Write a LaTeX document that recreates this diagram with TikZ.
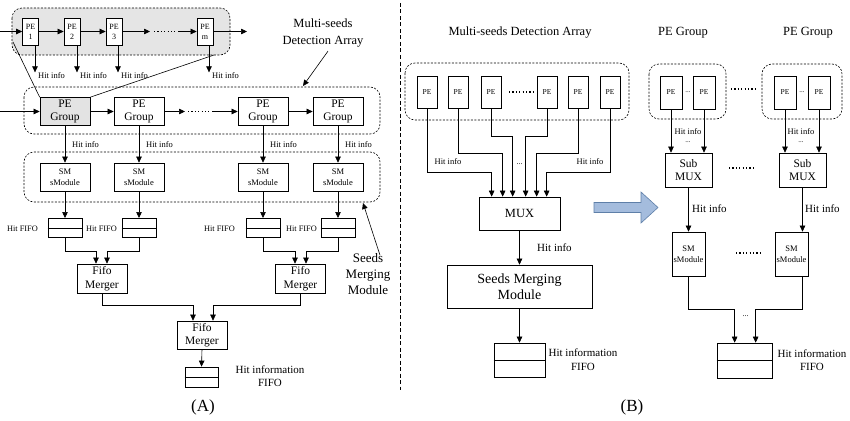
\documentclass[tikz,border=0pt]{standalone}
\usepackage{fontspec}
\setmainfont{Liberation Serif}
\usetikzlibrary{arrows.meta,calc}
\newcommand{\fsz}[2]{\fontsize{#1}{#2}\selectfont}
\definecolor{arrowfill}{HTML}{A4BCDD}
\definecolor{arrowline}{HTML}{5E7FA8}
\begin{document}
\begin{tikzpicture}[x=1pt,y=-1pt,
  box/.style={draw, line width=0.7pt, inner sep=0pt, align=center},
  arr/.style={-{Triangle[length=6pt,width=5.5pt]}, line width=0.6pt},
  ln/.style={line width=0.6pt},
  region/.style={draw, dash pattern=on 2pt off 1.5pt, rounded corners=10pt, line width=0.6pt},
  lbl/.style={inner sep=0pt, font=\fsz{8.5}{10}},
  dotrow/.style={line width=1.1pt, dash pattern=on 1.1pt off 2.3pt},
]
\useasboundingbox (0,0) rectangle (850,420);

% ================= (A) =================
% one PE group, expanded
\draw[region, fill=gray!20] (12,8) rectangle (230,55);
\foreach \n/\x/\t in {pe1/30.5/1, pe2/72/2, pe3/114/3, pem/205/m}
  \node[box, fill=white, minimum width=16pt, minimum height=27pt, font=\fsz{8}{10}] (\n) at (\x,31.5) {PE\\\t};
\coordinate (inA) at (0,31.5);
\coordinate (outA) at (247,31.5);
\coordinate (t3) at (150,31.5);
\coordinate (t4) at (178,31.5);
\draw[arr] (inA) -- (pe1);
\draw[arr] (pe1) -- (pe2);
\draw[arr] (pe2) -- (pe3);
\draw[arr] (pe3) -- (t3);
\draw[dotrow] (154,31.5) -- (175,31.5);
\draw[arr] (t4) -- (pem);
\draw[arr] (pem) -- (outA);
\foreach \n/\dx in {pe1/4.5, pe2/5, pe3/4, pem/4} {
  \draw[arr] ([xshift=\dx pt]\n.south) -- ++(0,27) coordinate (h\n);
  \node[lbl, anchor=west] at ($(h\n)+(3,3)$) {Hit info};
}

% PE group row
\draw[region] (24,87) rectangle (380,134);
\node[box, fill=gray!22, minimum width=50pt, minimum height=28pt, font=\fsz{11.5}{13.5}] (g1) at (65,111.5) {PE\\Group};
\foreach \n/\x in {g2/139, g3/263, g4/338}
  \node[box, minimum width=50pt, minimum height=28pt, font=\fsz{11.5}{13.5}] (\n) at (\x,111.5) {PE\\Group};
\coordinate (cl) at (13,42);
\coordinate (cr) at (214,55);
\draw[ln] (g1.north west) -- (cl);
\draw[ln] (g1.north east) -- (cr);
\coordinate (inG) at (0,111.5);
\coordinate (gd1) at (185,111.5);
\coordinate (gd2) at (212,111.5);
\draw[arr] (inG) -- (g1);
\draw[arr] (g1) -- (g2);
\draw[arr] (g2) -- (gd1);
\draw[dotrow] (188,111.5) -- (209,111.5);
\draw[arr] (gd2) -- (g3);
\draw[arr] (g3) -- (g4);

% seeds merging sub-modules
\draw[region] (24,152) rectangle (380,202);
\foreach \n/\x in {s1/65, s2/139, s3/263, s4/338}
  \node[box, minimum width=50pt, minimum height=28pt, font=\fsz{8.5}{10.5}] (\n) at (\x,177) {SM\\sModule};
\foreach \g/\s in {g1/s1, g2/s2, g3/s3, g4/s4} {
  \draw[arr] (\g.south) -- (\s.north);
  \node[lbl, anchor=west] at ($(\g.south)+(7,18.5)$) {Hit info};
}

% hit FIFOs
\foreach \n/\s in {f1/s1, f2/s2, f3/s3, f4/s4} {
  \node[box, minimum width=34pt, minimum height=19pt] (\n) at ($(\s.south)+(0,36.5)$) {};
  \draw[ln] (\n.west) -- (\n.east);
  \draw[arr] (\s.south) -- (\n.north);
}
\foreach \x in {38, 117, 235, 317}
  \node[lbl, anchor=east, font=\fsz{8.3}{10}] at (\x,229) {Hit FIFO};

% FIFO merger tree
\node[box, minimum width=50pt, minimum height=29pt, font=\fsz{11.5}{13.5}] (fm1) at (102,278.5) {Fifo\\Merger};
\node[box, minimum width=50pt, minimum height=29pt, font=\fsz{11.5}{13.5}] (fm2) at (300.5,278.5) {Fifo\\Merger};
\node[box, minimum width=50pt, minimum height=28pt, font=\fsz{11.5}{13.5}] (fm3) at (202,335) {Fifo\\Merger};
\draw[arr] (f1.south) -- ++(0,14) -| ([xshift=-6pt]fm1.north);
\draw[arr] (f2.south) -- ++(0,14) -| ([xshift=5pt]fm1.north);
\draw[arr] (f3.south) -- ++(0,14) -| ([xshift=-5.5pt]fm2.north);
\draw[arr] (f4.south) -- ++(0,14) -| ([xshift=5.5pt]fm2.north);
\draw[arr] (fm1.south) -- ++(0,12) -| ([xshift=-9pt]fm3.north);
\draw[arr] (fm2.south) -- ++(0,12) -| ([xshift=11pt]fm3.north);
\node[box, minimum width=33pt, minimum height=20pt] (hfa) at (201.5,377) {};
\draw[ln] (hfa.west) -- (hfa.east);
\draw[arr] (fm3.south) -- (hfa.north);
\node[align=center, inner sep=0pt, font=\fsz{11}{13}] (hfal) at (270,376.5) {Hit information\\FIFO};

% annotations
\node[align=center, inner sep=0pt, font=\fsz{12.5}{16.5}] (mda) at (323,33) {Multi-seeds\\Detection Array};
\coordinate (mdatip) at (303,86);
\draw[arr] ([xshift=5pt,yshift=-4pt]mda.south) -- (mdatip);
\node[align=center, inner sep=0pt, font=\fsz{13}{16}] (smma) at (368,274) {Seeds\\Merging\\Module};
\coordinate (smmtip) at (363,203);
\draw[arr] ([xshift=12pt,yshift=-2pt]smma.north) -- (smmtip);

\node[inner sep=0pt, font=\fsz{17}{20}] (capA) at (203,407) {(A)};

% divider
\draw[dash pattern=on 4pt off 2.5pt, line width=0.7pt] (400,3) -- (400,390);

% ================= (B) =================
\node[inner sep=0pt, font=\fsz{12.5}{15}] (tb) at (520,33) {Multi-seeds Detection Array};
\draw[region] (405,63) rectangle (629,120);
\foreach \n/\x in {b1/427, b2/458, b3/491, b4/547, b5/578, b6/610}
  \node[box, minimum width=20pt, minimum height=32pt, font=\fsz{7.5}{9}] (\n) at (\x,92) {PE};
\draw[dotrow] (509,92) -- (533,92);

\node[box, minimum width=81pt, minimum height=33pt, font=\fsz{12.5}{15}] (mux) at (519.5,213.5) {MUX};
\draw[arr] (b1.south) -- ++(0,64) -| ([xshift=13pt]mux.north west);
\draw[arr] (b2.south) -- ++(0,45) -| ([xshift=24pt]mux.north west);
\draw[arr] (b3.south) -- ++(0,28) -| ([xshift=34pt]mux.north west);
\draw[arr] (b4.south) -- ++(0,28) -| ([xshift=47pt]mux.north west);
\draw[arr] (b5.south) -- ++(0,45) -| ([xshift=58pt]mux.north west);
\draw[arr] (b6.south) -- ++(0,64) -| ([xshift=68pt]mux.north west);
\node[lbl] at (448,162) {Hit info};
\node[lbl] at (590,162) {Hit info};
\node[inner sep=0pt, font=\fsz{8}{10}] at (519.5,164) {...};

\node[box, minimum width=145pt, minimum height=43pt, font=\fsz{14}{16}] (smmb) at (519.5,286.5) {Seeds Merging\\Module};
\draw[arr] (mux.south) -- (smmb.north);
\node[lbl, anchor=west, font=\fsz{11}{13}] at (537,248) {Hit info};
\node[box, minimum width=51pt, minimum height=34pt] (hfb) at (519.5,360) {};
\draw[ln] (hfb.west) -- (hfb.east);
\draw[arr] (smmb.south) -- (hfb.north);
\node[align=center, inner sep=0pt, font=\fsz{11}{14}] (hfbl) at (583,360) {Hit information\\FIFO};
\node[inner sep=0pt, font=\fsz{17}{20}] (capB) at (632,407) {(B)};

% refinement arrow
\draw[fill=arrowfill, draw=arrowline, line width=0.6pt]
  (594,202.5) -- (641,202.5) -- (641,192) -- (658,207.5) -- (641,223) -- (641,212.5) -- (594,212.5) -- cycle;

% distributed multiplexing
\node[inner sep=0pt, font=\fsz{12.5}{15}] (tg1) at (683,33) {PE Group};
\node[inner sep=0pt, font=\fsz{12.5}{15}] (tg2) at (808,33) {PE Group};
\draw[region] (649,64) rectangle (726,119);
\draw[region] (762,64) rectangle (842,119);
\foreach \n/\x in {p11/671, p12/704, p21/785, p22/819}
  \node[box, minimum width=22pt, minimum height=33pt, font=\fsz{7.5}{9}] (\n) at (\x,92.5) {PE};
\node[inner sep=0pt, font=\fsz{7}{8}] at (688,92) {...};
\node[inner sep=0pt, font=\fsz{7}{8}] at (802,92) {...};
\draw[dotrow] (731,89) -- (756,89);

\node[box, minimum width=47pt, minimum height=34pt, font=\fsz{11.5}{13.5}] (sm1) at (688.5,170) {Sub\\MUX};
\node[box, minimum width=47pt, minimum height=34pt, font=\fsz{11.5}{13.5}] (sm2) at (802.5,170) {Sub\\MUX};
\draw[dotrow] (729,168) -- (754,168);
\draw[arr] (p11.south) -- (p11.south |- sm1.north);
\draw[arr] (p12.south) -- (p12.south |- sm1.north);
\draw[arr] (p21.south) -- (p21.south |- sm2.north);
\draw[arr] (p22.south) -- (p22.south |- sm2.north);
\node[lbl] at (688,131.5) {Hit info};
\node[inner sep=0pt, font=\fsz{7}{8}] at (688,142.5) {...};
\node[lbl] at (801,131.5) {Hit info};
\node[inner sep=0pt, font=\fsz{7}{8}] at (801,142.5) {...};

\node[box, minimum width=33pt, minimum height=44pt, font=\fsz{8.5}{10.5}] (sq1) at (688.5,254) {SM\\sModule};
\node[box, minimum width=33pt, minimum height=44pt, font=\fsz{8.5}{10.5}] (sq2) at (791.5,254) {SM\\sModule};
\draw[dotrow] (736,253) -- (761,253);
\draw[arr] (sm1.south) -- (sm1.south |- sq1.north);
\draw[arr] (sm2.south) -- (sm2.south |- sq2.north);
\node[lbl, anchor=west, font=\fsz{11}{13}] at (692,209) {Hit info};
\node[lbl, anchor=west, font=\fsz{11}{13}] at (805,209) {Hit info};

\node[box, minimum width=55pt, minimum height=35pt] (hfr) at (744.5,360.5) {};
\draw[ln] (hfr.west) -- (hfr.east);
\draw[arr] (sq1.south) -- ++(0,33) -| ([xshift=18pt]hfr.north west);
\draw[arr] ([xshift=10.5pt]sq2.south) -- ++(0,33) -| ([xshift=39pt]hfr.north west);
\node[inner sep=0pt, font=\fsz{8}{10}] at (745.5,316) {...};
\node[align=center, inner sep=0pt, font=\fsz{11}{13.5}] (hfrl) at (812,360) {Hit information\\FIFO};
\end{tikzpicture}
\end{document}
